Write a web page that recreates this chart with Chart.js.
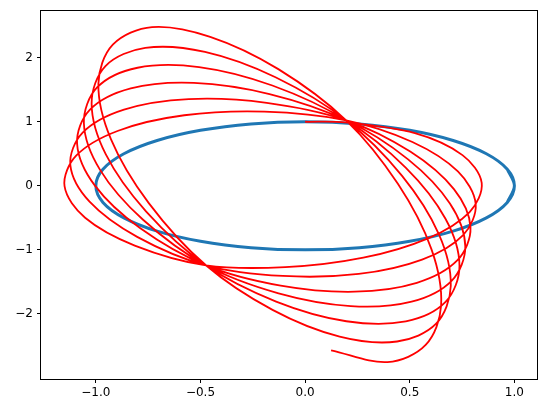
<!DOCTYPE html>
<html><head><meta charset="utf-8">
<script src="https://cdn.jsdelivr.net/npm/chart.js@4"></script>
<style>html,body{margin:0;padding:0;background:#fff}#wrap{width:546px;height:413px}</style>
</head><body><div id="wrap"><canvas id="c" width="546" height="413"></canvas></div>
<script>
// Blue reference circle (small overlap at the ends so the loop closes smoothly)
const circleX = [0.9659, 1, 0.9659, 0.866, 0.7071, 0.5, 0.2588, 0, -0.2588, -0.5, -0.7071, -0.866, -0.9659,
  -1, -0.9659, -0.866, -0.7071, -0.5, -0.2588, 0, 0.2588, 0.5, 0.7071, 0.866, 0.9659, 1, 0.9659];
const circleY = [-0.2588, 0, 0.2588, 0.5, 0.7071, 0.866, 0.9659, 1, 0.9659, 0.866, 0.7071, 0.5, 0.2588,
  0, -0.2588, -0.5, -0.7071, -0.866, -0.9659, -1, -0.9659, -0.866, -0.7071, -0.5, -0.2588, 0, 0.2588];

// Red precessing orbit (in drawing order)
const redX = [
  0, 0.19,
  0.5245, 0.7519, 0.8438, 0.786, 0.5874, 0.2781, -0.0945, -0.474,
  -0.814, -1.0512, -1.1495, -1.094, -0.8931, -0.5774, -0.195, 0.196,
  0.5126, 0.73, 0.8152, 0.755, 0.5588, 0.2562, -0.1064, -0.474,
  -0.8025, -1.03, -1.1218, -1.064, -0.8654, -0.5562, -0.1835, 0.196,
  0.5023, 0.711, 0.7902, 0.728, 0.5338, 0.2372, -0.1167, -0.474,
  -0.7891, -1.0052, -1.0895, -1.029, -0.8331, -0.5314, -0.1701, 0.196,
  0.492, 0.6919, 0.7653, 0.701, 0.5089, 0.2181, -0.127, -0.474,
  -0.7757, -0.9805, -1.0571, -0.994, -0.8007, -0.5067, -0.1567, 0.196,
  0.4805, 0.6707, 0.7376, 0.671, 0.4812, 0.1969, -0.1385, -0.474,
  -0.7604, -0.9522, -1.0202, -0.954, -0.7638, -0.4784, -0.1414, 0.196,
  0.4633, 0.6388, 0.696, 0.626, 0.4396, 0.165, -0.1557, -0.474,
  -0.747, -0.9274, -0.9878, -0.919, -0.7314, -0.4536, -0.128, 0.196,
  0.4441, 0.6035, 0.6498, 0.576, 0.3934, 0.124
];
const redY = [
  1.0, 0.99,
  0.8221, 0.4793, 0.047, -0.409, -0.8194, -1.1215, -1.2697, -1.241,
  -0.9329, -0.4993, -0.0063, 0.471, 0.8601, 1.1015, 1.1589, 1.023,
  0.6843, 0.2247, -0.2856, -0.769, -1.152, -1.3761, -1.4075, -1.241,
  -0.7967, -0.2476, 0.3226, 0.827, 1.189, 1.3532, 1.2951, 1.023,
  0.5343, -0.0525, -0.6477, -1.161, -1.5141, -1.6533, -1.5575, -1.241,
  -0.6589, 0.007, 0.6552, 1.187, 1.5216, 1.6078, 1.4329, 1.023,
  0.4126, -0.2773, -0.9415, -1.479, -1.8079, -1.8781, -1.6792, -1.241,
  -0.5257, 0.2531, 0.9767, 1.535, 1.8431, 1.8539, 1.5661, 1.023,
  0.2848, -0.5135, -1.2501, -1.813, -2.1165, -2.1143, -1.807, -1.241,
  -0.3975, 0.4899, 1.2862, 1.87, 2.1526, 2.0907, 1.6943, 1.023,
  0.1547, -0.7539, -1.5643, -2.153, -2.4307, -2.3547, -1.9371, -1.241,
  -0.2701, 0.7254, 1.5939, 2.203, 2.478, 2.3262, 1.8217, 1.023,
  0.028, -0.988, -1.8701, -2.484, -2.752, -2.568
];

const xTicks = [-1.0, -0.5, 0.0, 0.5, 1.0];
const xLabels = ['\u22121.0', '\u22120.5', '0.0', '0.5', '1.0'];
const yTicks = [-2, -1, 0, 1, 2];
const yLabels = ['\u22122', '\u22121', '0', '1', '2'];

const toPts = (xs, ys) => xs.map((x, i) => ({x: x, y: ys[i]}));

const framePlugin = {
  id: 'frame',
  afterDraw(chart) {
    const a = chart.chartArea, ctx = chart.ctx;
    ctx.save();
    ctx.strokeStyle = '#000';
    ctx.lineWidth = 1;
    ctx.strokeRect(Math.round(a.left) - 0.5, Math.round(a.top) - 0.5,
                   Math.round(a.right - a.left) + 1, Math.round(a.bottom - a.top) + 1);
    ctx.restore();
  }
};

const font = {family: '"DejaVu Sans", sans-serif', size: 12};

new Chart(document.getElementById('c'), {
  type: 'scatter',
  data: {
    datasets: [
      {data: toPts(redX, redY), showLine: true, borderColor: '#ff0000', borderWidth: 1.8,
       pointRadius: 0, tension: 0.34, fill: false},
      {data: toPts(circleX, circleY), showLine: true, borderColor: '#1f77b4', borderWidth: 3,
       pointRadius: 0, tension: 0.34, fill: false}
    ]
  },
  options: {
    responsive: false,
    animation: false,
    devicePixelRatio: 1,
    layout: {padding: {top: 11, right: 9, left: 0, bottom: 0}},
    plugins: {legend: {display: false}, tooltip: {enabled: false}},
    scales: {
      x: {
        type: 'linear', min: -1.262, max: 1.108,
        afterBuildTicks: s => { s.ticks = xTicks.map(v => ({value: v})); },
        afterFit: s => { s.height = 34; },
        grid: {display: true, drawOnChartArea: false, drawTicks: true, tickLength: 4, color: '#000', lineWidth: 1},
        border: {display: false},
        ticks: {color: '#000', font: font, padding: 3, maxRotation: 0,
                callback: v => xLabels[xTicks.indexOf(v)]}
      },
      y: {
        type: 'linear', min: -3.016, max: 2.726,
        afterBuildTicks: s => { s.ticks = yTicks.map(v => ({value: v})); },
        afterFit: s => { s.width = 41; },
        grid: {display: true, drawOnChartArea: false, drawTicks: true, tickLength: 4, color: '#000', lineWidth: 1},
        border: {display: false},
        ticks: {color: '#000', font: font, padding: 4,
                callback: v => yLabels[yTicks.indexOf(v)]}
      }
    }
  },
  plugins: [framePlugin]
});
</script>
</body></html>
